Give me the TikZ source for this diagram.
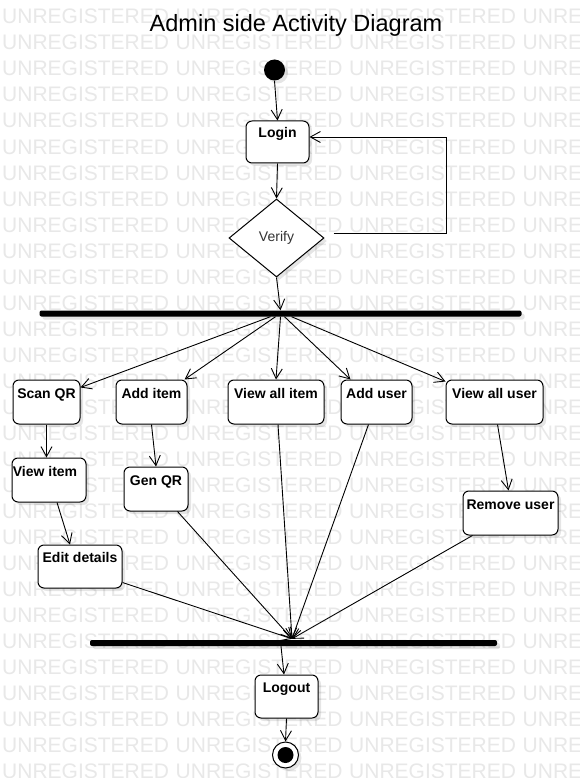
\documentclass[tikz,border=0pt]{standalone}
\usepackage{fontspec}
\setmainfont{Liberation Sans}
\usetikzlibrary{shapes.geometric,arrows.meta,calc,shadows}
\begin{document}
\begin{tikzpicture}[x=1pt,y=-1pt,
  softshadow/.style={drop shadow={shadow xshift=3pt,shadow yshift=-3pt,fill=black,opacity=0.1}},
  actbox/.style={draw, line width=1pt, rounded corners=6pt, fill=white, inner sep=0pt,
    text height=10pt, text depth=18pt, font=\fontsize{14}{16}\selectfont\bfseries,
    minimum height=44pt, softshadow},
  arr/.style={draw, line width=0.9pt, -{Straight Barb[length=10pt,width=11pt]}},
  syncbar/.style={fill=black, rounded corners=2pt, inner sep=0pt, minimum height=6pt, softshadow},
  wm/.style={text=black!9, font=\fontsize{21}{21}\selectfont, anchor=base west, inner sep=0pt}
]
\useasboundingbox (0,0) rectangle (579,778);
\fill[white] (0,0) rectangle (579,778);
\begin{scope}
\clip (0,0) rectangle (579,778);
\foreach \r in {0,...,29}{
  \foreach \c in {0,...,3}{
    \node[wm] (wm-\r-\c) at (2+173.5*\c, 24+26*\r) {UNREGISTERED};
  }
}
\end{scope}

\node[font=\fontsize{23.5}{26}\selectfont, anchor=base, inner sep=0pt] (title) at (296,32) {Admin side Activity Diagram};

\node[circle, fill=black, minimum size=21pt, inner sep=0pt, softshadow] (init) at (274.5,70) {};
\node[actbox, minimum width=63pt, minimum height=42pt] (login) at (277.5,142) {Login};
\node[diamond, draw, line width=1pt, fill=white, minimum width=95pt, minimum height=78pt,
      inner sep=0pt, font=\fontsize{14}{16}\selectfont, text=black!80, softshadow] (verify) at (276.5,238) {Verify};
\coordinate (loopc) at (446,137);

\node[syncbar, minimum width=482pt] (fork) at (280.5,313.5) {};

\node[actbox, minimum width=67pt] (scan) at (46.5,402) {Scan QR};
\node[actbox, minimum width=71pt] (additem) at (151.5,402) {Add item};
\node[actbox, minimum width=96pt] (viewallitem) at (276,402) {View all item};
\node[actbox, minimum width=71pt] (adduser) at (376.5,402) {Add user};
\node[actbox, minimum width=97pt] (viewalluser) at (494.5,402) {View all user};
\node[actbox, minimum width=74pt] (viewitem) at (49,480) {\hspace*{-8pt}View item};
\node[actbox, minimum width=64pt] (genqr) at (156,489) {Gen QR};
\node[actbox, minimum width=95pt] (removeuser) at (510.5,513) {Remove user};
\node[actbox, minimum width=84pt, minimum height=43pt] (editdetails) at (80,566.5) {Edit details};

\node[syncbar, minimum width=407pt] (join) at (293.5,643) {};
\node[actbox, minimum width=63pt, minimum height=43pt] (logout) at (286.5,696.5) {Logout};
\node[circle, draw, line width=1pt, fill=white, minimum size=26pt, inner sep=0pt, softshadow] (final) at (285.5,755) {};
\node[circle, fill=black, minimum size=16pt, inner sep=0pt] (finaldot) at (final.center) {};

% top flow
\draw[arr] (init.south) -- (login.north);
\draw[arr] (login.south) -- (verify.north);
\draw[arr] ($(verify.east)+(9,-5)$) -| (loopc) -- (login.east |- loopc);
\draw[arr] (verify.south) -- (fork.north);

% fork
\draw[arr] ($(fork.south)+(-10,0)$) -- ($(scan.north east)+(0,8)$);
\draw[arr] ($(fork.south)+(-5,0)$) -- ($(additem.north east)+(-3,0)$);
\draw[arr] (fork.south) -- (viewallitem.north);
\draw[arr] ($(fork.south)+(4,0)$) -- ($(adduser.north west)+(10,0)$);
\draw[arr] ($(fork.south)+(11,0)$) -- ($(viewalluser.north west)+(0,2)$);

% chains
\draw[arr] (scan.south) -- (scan.south |- viewitem.north);
\draw[arr] ($(viewitem.south)+(8,0)$) -- ($(editdetails.north)+(-10,0)$);
\draw[arr] (additem.south) -- (genqr.north);
\draw[arr] ($(viewalluser.south)+(3,0)$) -- ($(removeuser.north)+(-2,0)$);

% join
\coordinate (jin) at ($(join.north)+(-1.5,-1)$);
\draw[arr] ($(editdetails.south east)+(0,-6)$) -- (jin);
\draw[arr] ($(genqr.south east)+(-11,0)$) -- (jin);
\draw[arr] ($(viewallitem.south)+(2,0)$) -- (jin);
\draw[arr] ($(adduser.south)+(-8,0)$) -- (jin);
\draw[arr] ($(removeuser.south west)+(10,0)$) -- (jin);

\draw[arr] ($(join.south)+(-12.5,0)$) -- ($(logout.north)+(-2.5,0)$);
\draw[arr] (logout.south) -- (final.north);
\end{tikzpicture}
\end{document}
